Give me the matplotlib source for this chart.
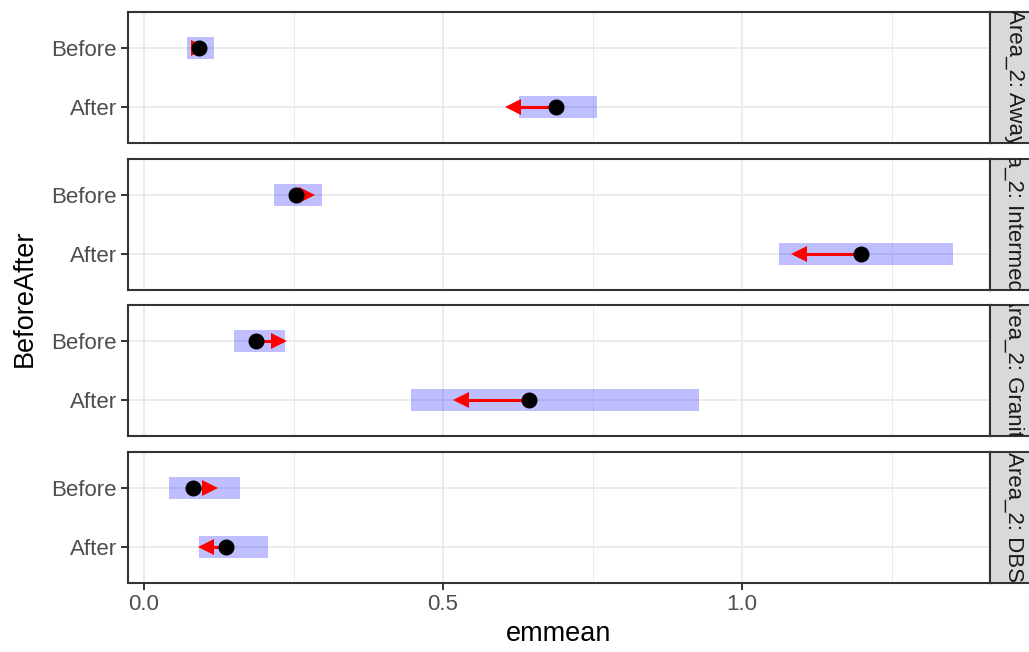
import numpy as np
import matplotlib
matplotlib.use("Agg")
import matplotlib.pyplot as plt

plt.rcParams['font.family'] = ['Liberation Sans', 'DejaVu Sans']

# data
areas = ["Away", "Intermediate", "Granite", "DBS"]
levels = ["After", "Before"]
emmean_before = [0.092, 0.254, 0.187, 0.082]
lcl_before = [0.072, 0.217, 0.150, 0.042]
ucl_before = [0.117, 0.298, 0.236, 0.161]
arrow_before = [0.105, 0.286, 0.238, 0.124]
emmean_after = [0.689, 1.199, 0.644, 0.137]
lcl_after = [0.627, 1.062, 0.446, 0.092]
ucl_after = [0.758, 1.353, 0.928, 0.207]
arrow_after = [0.604, 1.082, 0.517, 0.090]
xticks = [0.0, 0.5, 1.0]

W, H = 1029, 652
fig = plt.figure(figsize=(W / 100, H / 100), dpi=100)

left, right = 128, 990
tops = [12, 159, 305, 452]
ph = 131
xlim = (-0.0268, 1.4147)
grey20 = '#333333'
grid = '#EBEBEB'
head_px = 15.5
head_len = head_px / ((right - left) / (xlim[1] - xlim[0]))  # in data units

for i, area in enumerate(areas):
    top = tops[i]
    ax = fig.add_axes([left / W, 1 - (top + ph) / H, (right - left) / W, ph / H])
    ax.set_xlim(*xlim)
    ax.set_ylim(-0.6, 1.6)
    for v in [0.25, 0.75, 1.25]:
        ax.axvline(v, color=grid, lw=0.7, zorder=0)
    for v in xticks:
        ax.axvline(v, color=grid, lw=1.4, zorder=0)
    for v in [0, 1]:
        ax.axhline(v, color=grid, lw=1.4, zorder=0)

    # confidence bars
    ax.barh([1, 0], [ucl_before[i] - lcl_before[i], ucl_after[i] - lcl_after[i]],
            left=[lcl_before[i], lcl_after[i]], height=0.37,
            color=(0, 0, 1, 0.25), zorder=1)
    # comparison arrows: shaft + triangle head
    for y, start, tip in [(1, emmean_before[i], arrow_before[i]),
                          (0, emmean_after[i], arrow_after[i])]:
        d = np.sign(tip - start)
        base = tip - d * head_len
        if (base - start) * d > 0:
            ax.plot([start, base + d * head_len * 0.2], [y, y], color='red',
                    lw=2.2, zorder=2, solid_capstyle='butt')
        ax.plot([tip - d * head_len / 2], [y], marker='>' if d > 0 else '<',
                color='red', markersize=head_px * 0.72, markeredgewidth=0,
                zorder=2, linestyle='none')
    ax.plot([emmean_before[i], emmean_after[i]], [1, 0], 'o', color='black',
            markersize=10.5, zorder=3, linestyle='none')

    ax.set_yticks([0, 1])
    ax.set_yticklabels(levels)
    ax.set_xticks(xticks)
    ax.tick_params(axis='both', colors=grey20, width=1.4, length=5,
                   labelsize=16, labelcolor='#4D4D4D', pad=3)
    if i < 3:
        ax.tick_params(axis='x', bottom=False, labelbottom=False)
    else:
        ax.set_xticklabels(["0.0", "0.5", "1.0"])
    for s in ax.spines.values():
        s.set_color(grey20)
        s.set_linewidth(1.5)

    # facet strip, cut off at the figure edge as in the original
    sx = fig.add_axes([right / W, 1 - (top + ph) / H, 60 / W, ph / H])
    sx.set_facecolor('#D9D9D9')
    sx.set_xticks([])
    sx.set_yticks([])
    for s in sx.spines.values():
        s.set_color(grey20)
        s.set_linewidth(1.5)
    sx.text(24 / 60, 0.5, "Area_2: " + area, rotation=-90, ha='center',
            va='center', fontsize=16, color='#1A1A1A', transform=sx.transAxes,
            clip_on=True)

fig.text(25 / W, 1 - 298 / H, "BeforeAfter", rotation=90, ha='center',
         va='center', fontsize=19.5, color='black')
fig.text((left + right) / 2 / W, 1 - 634 / H, "emmean", ha='center',
         va='center', fontsize=19.5, color='black')

fig.savefig("out.png", dpi=100)
